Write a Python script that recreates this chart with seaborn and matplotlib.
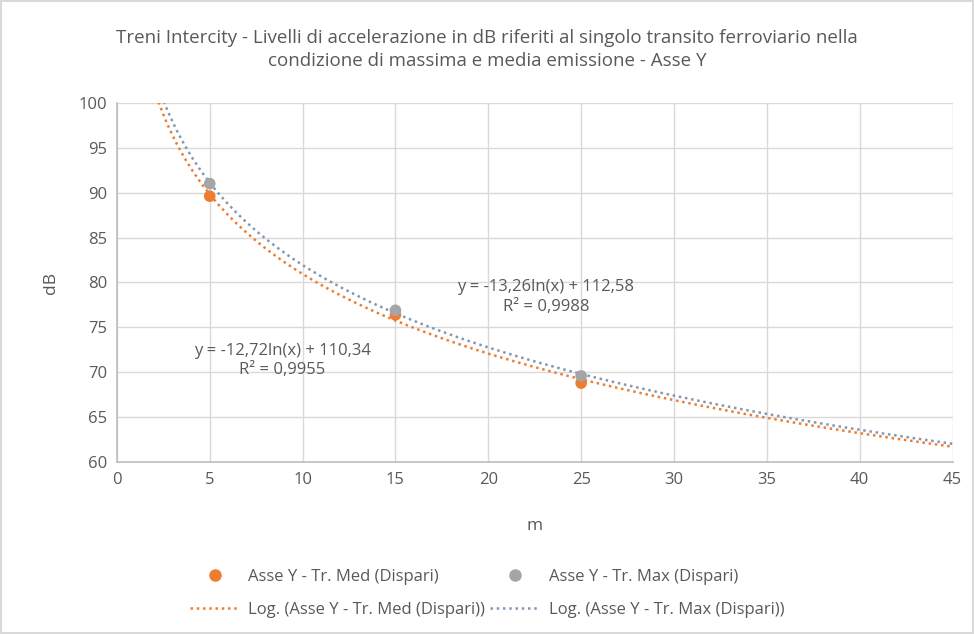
import numpy as np
import pandas as pd
import seaborn as sns
import matplotlib.pyplot as plt
from matplotlib.lines import Line2D

sns.set_theme(style="whitegrid")
plt.rcParams["font.family"] = ["Open Sans", "DejaVu Sans"]

# distances (m) and measured levels (dB)
dist = [5, 15, 25]
med = [89.6, 76.4, 68.8]
mx = [91.0, 76.9, 69.6]

lab_med = "Asse Y - Tr. Med (Dispari)"
lab_max = "Asse Y - Tr. Max (Dispari)"
eq_med = "y = -12,72ln(x) + 110,34\nR² = 0,9955"
eq_max = "y = -13,26ln(x) + 112,58\nR² = 0,9988"

c_med = "#ED7D31"
c_max = "#A5A5A5"
c_max_line = "#8497B0"
txt = "#595959"

df = pd.DataFrame({"m": dist * 2, "dB": med + mx,
                   "serie": [lab_med] * 3 + [lab_max] * 3})

fig = plt.figure(figsize=(9.74, 6.34), dpi=100)
fig.patch.set_edgecolor("#D9D9D9")
fig.patch.set_linewidth(1.5)
ax = fig.add_axes([0.120, 0.271, 0.858, 0.567])
ax.set_xlim(0, 45)
ax.set_ylim(60, 100)

for lab, col, lcol in [(lab_med, c_med, c_med), (lab_max, c_max, c_max_line)]:
    sub = df[df["serie"] == lab]
    sns.regplot(data=sub, x="m", y="dB", logx=True, ci=None, truncate=False,
                scatter=False, ax=ax,
                line_kws={"color": lcol, "ls": (0, (1, 1.5)), "lw": 1.8})
    sns.scatterplot(data=sub, x="m", y="dB", color=col, s=70, ax=ax,
                    edgecolor="none", zorder=5, legend=False)

ax.set_xlim(0, 45)
ax.set_ylim(60, 100)
ax.set_xticks(range(0, 46, 5))
ax.set_yticks(range(60, 101, 5))
ax.grid(True, color="#D9D9D9", lw=1)
for s in ["top", "right"]:
    ax.spines[s].set_visible(False)
for s in ["left", "bottom"]:
    ax.spines[s].set_color("#BFBFBF")
ax.tick_params(colors=txt, labelsize=12, length=0, pad=7)
ax.set_xlabel("m", color=txt, fontsize=12.5, labelpad=22)
ax.set_ylabel("dB", color=txt, fontsize=12.5, labelpad=14)

ax.text(23.1, 78.4, eq_max, ha="center", va="center", color=txt,
        fontsize=12, linespacing=1.3)
ax.text(8.9, 71.3, eq_med, ha="center", va="center", color=txt,
        fontsize=12, linespacing=1.3)

fig.suptitle("Treni Intercity - Livelli di accelerazione in dB riferiti al singolo transito ferroviario nella\n"
             "condizione di massima e media emissione - Asse Y",
             y=0.955, color=txt, fontsize=13.5, linespacing=1.4)

handles = [
    Line2D([], [], ls="none", marker="o", color=c_med, markersize=8),
    Line2D([], [], color=c_med, ls=(0, (1, 1.5)), lw=1.8),
    Line2D([], [], ls="none", marker="o", color=c_max, markersize=8),
    Line2D([], [], color=c_max_line, ls=(0, (1, 1.5)), lw=1.8),
]
labels = [lab_med, "Log. (" + lab_med + ")", lab_max, "Log. (" + lab_max + ")"]
fig.legend(handles, labels, ncol=2, loc="center", bbox_to_anchor=(0.5, 0.064),
           frameon=False, fontsize=12, labelcolor=txt, handlelength=3,
           columnspacing=0.3, handletextpad=0.5, labelspacing=1.0)

fig.savefig("out.png", dpi=100)
